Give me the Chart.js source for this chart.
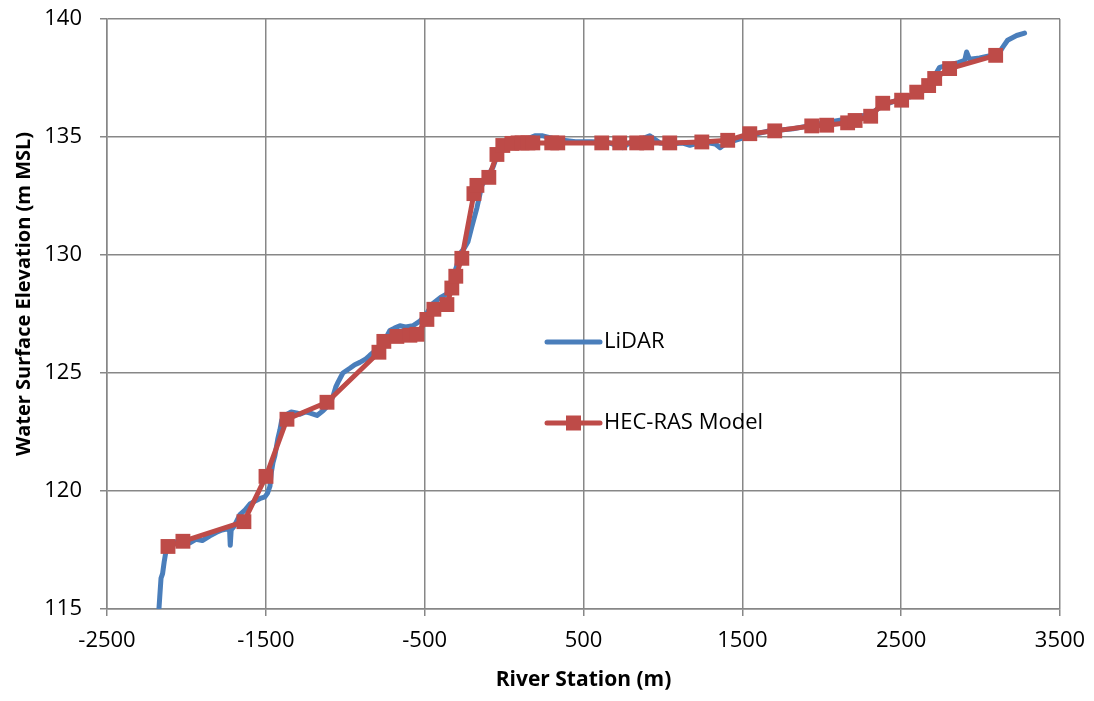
<!DOCTYPE html>
<html>
<head>
<meta charset="utf-8">
<script src="https://cdn.jsdelivr.net/npm/chart.js@4.4.1/dist/chart.umd.min.js"></script>
<style>
  html, body { margin: 0; padding: 0; background: #fff; }
  #wrap { width: 1094px; height: 701px; }
</style>
</head>
<body>
<div id="wrap"><canvas id="wsChart"></canvas></div>
<script>
// LiDAR profile (river station m, elevation m MSL)
const lidar_x = [-2173, -2168, -2160, -2150, -2140, -2130, -2120, -2100, -2060, -2020, -1978, -1940, -1900, -1852, -1810, -1776, -1740, -1728, -1724, -1718, -1700, -1663, -1630, -1600, -1560, -1530, -1506, -1490, -1474, -1465, -1455, -1443, -1425, -1411, -1400, -1380, -1340, -1300, -1285, -1250, -1220, -1178, -1140, -1110, -1097, -1078, -1060, -1046, -1015, -971, -940, -908, -870, -845, -782, -750, -719, -690, -656, -620, -574, -530, -490, -448, -400, -360, -340, -322, -300, -278, -250, -228, -203, -171, -140, -108, -71, -39, 17, 55, 120, 194, 244, 332, 450, 550, 650, 747, 800, 860, 917, 980, 1050, 1120, 1170, 1250, 1330, 1360, 1400, 1450, 1520, 1600, 1660, 1740, 1820, 1900, 1980, 2060, 2150, 2230, 2310, 2390, 2470, 2530, 2600, 2650, 2680, 2720, 2742, 2800, 2860, 2900, 2912, 2930, 2994, 3060, 3120, 3139, 3170, 3227, 3277];
const lidar_y = [115.0, 115.5, 116.3, 116.5, 117.0, 117.4, 117.6, 117.8, 117.85, 117.8, 117.8, 117.95, 117.9, 118.1, 118.25, 118.35, 118.4, 118.3, 117.7, 118.35, 118.5, 119.0, 119.2, 119.45, 119.6, 119.7, 119.75, 119.9, 120.2, 120.8, 121.2, 121.5, 122.2, 122.6, 123.0, 123.2, 123.35, 123.3, 123.25, 123.35, 123.3, 123.2, 123.4, 123.6, 123.7, 124.0, 124.4, 124.6, 125.0, 125.2, 125.35, 125.45, 125.6, 125.75, 126.1, 126.4, 126.8, 126.9, 127.0, 126.95, 127.0, 127.2, 127.5, 127.95, 128.2, 128.35, 128.7, 129.05, 129.5, 130.05, 130.3, 130.55, 131.2, 132.0, 132.95, 133.3, 133.7, 134.3, 134.65, 134.8, 134.85, 135.05, 135.05, 134.9, 134.8, 134.8, 134.78, 134.55, 134.8, 134.9, 135.05, 134.75, 134.7, 134.75, 134.65, 134.8, 134.7, 134.55, 134.75, 134.85, 135.0, 135.15, 135.25, 135.3, 135.35, 135.45, 135.55, 135.65, 135.75, 135.85, 136.0, 136.35, 136.55, 136.65, 136.8, 137.0, 137.3, 137.7, 137.95, 138.05, 138.15, 138.25, 138.6, 138.3, 138.35, 138.45, 138.6, 138.8, 139.1, 139.3, 139.4];

// HEC-RAS model cross sections
const hec_x = [-2116, -2022, -1638, -1499, -1367, -1115, -788, -757, -675, -593, -549, -486, -442, -360, -329, -304, -266, -190, -171, -96, -45, -8, 49, 88, 113, 150, 181, 300, 338, 615, 728, 835, 898, 1043, 1245, 1408, 1547, 1704, 1937, 2031, 2163, 2210, 2308, 2384, 2503, 2598, 2673, 2711, 2805, 3095];
const hec_y = [117.65, 117.87, 118.7, 120.62, 123.04, 123.76, 125.88, 126.34, 126.55, 126.6, 126.64, 127.27, 127.7, 127.9, 128.6, 129.1, 129.86, 132.6, 132.95, 133.29, 134.26, 134.64, 134.73, 134.75, 134.75, 134.75, 134.75, 134.75, 134.75, 134.75, 134.75, 134.75, 134.75, 134.75, 134.79, 134.86, 135.14, 135.26, 135.47, 135.5, 135.6, 135.7, 135.88, 136.43, 136.56, 136.9, 137.18, 137.48, 137.9, 138.46];

const x_ticks = [-2500, -1500, -500, 500, 1500, 2500, 3500];

const blue = '#4A7EBB';
const red = '#BE4B48';
const gridColor = '#878787';
const fontFamily = "'Open Sans', 'Liberation Sans', sans-serif";

function toPoints(xs, ys) {
  return xs.map((x, i) => ({ x: x, y: ys[i] }));
}

// legend inside the plot area + y title placed like the original
const insideLegend = {
  id: 'insideLegend',
  afterDraw(chart) {
    const ctx = chart.ctx;
    const x0 = chart.scales.x.getPixelForValue(-2500) + 438;
    const rows = [
      { label: 'LiDAR', color: blue, marker: false, y: 342 },
      { label: 'HEC-RAS Model', color: red, marker: true, y: 423 }
    ];
    ctx.save();
    rows.forEach(r => {
      ctx.strokeStyle = r.color;
      ctx.lineWidth = 5;
      ctx.lineCap = 'round';
      ctx.beginPath();
      ctx.moveTo(x0 + 2, r.y);
      ctx.lineTo(x0 + 55, r.y);
      ctx.stroke();
      if (r.marker) {
        ctx.fillStyle = r.color;
        ctx.fillRect(x0 + 21, r.y - 7.5, 15, 15);
      }
      ctx.fillStyle = '#000';
      ctx.font = '22px ' + fontFamily;
      ctx.textBaseline = 'middle';
      ctx.textAlign = 'left';
      ctx.fillText(r.label, x0 + 59, r.y);
    });

    // y axis title
    ctx.translate(24, 294);
    ctx.rotate(-Math.PI / 2);
    ctx.font = 'bold 20px ' + fontFamily;
    ctx.textAlign = 'center';
    ctx.textBaseline = 'middle';
    ctx.fillText('Water Surface Elevation (m MSL)', 0, 0);
    ctx.restore();
  }
};

const config = {
  type: 'scatter',
  data: {
    datasets: [{
      label: 'LiDAR',
      data: toPoints(lidar_x, lidar_y),
      showLine: true,
      borderColor: blue,
      backgroundColor: blue,
      borderWidth: 5,
      pointRadius: 0,
      borderCapStyle: 'round',
      borderJoinStyle: 'round',
      order: 2
    }, {
      label: 'HEC-RAS Model',
      data: toPoints(hec_x, hec_y),
      showLine: true,
      borderColor: red,
      backgroundColor: red,
      borderWidth: 5,
      pointStyle: 'rect',
      pointRadius: 10.5,
      pointBorderWidth: 0,
      borderJoinStyle: 'round',
      order: 1
    }]
  },
  options: {
    responsive: true,
    maintainAspectRatio: false,
    animation: false,
    layout: { padding: { left: 0, right: 34, top: 19, bottom: 0 } },
    plugins: {
      legend: { display: false },
      tooltip: { enabled: false }
    },
    scales: {
      x: {
        type: 'linear',
        min: -2500,
        max: 3500,
        afterBuildTicks: (scale) => { scale.ticks = x_ticks.map(v => ({ value: v })); },
        afterFit: (scale) => { scale.height = 92; scale.paddingLeft = 0; scale.paddingRight = 0; },
        grid: { color: gridColor, lineWidth: 1.5, drawTicks: true, tickLength: 7 },
        border: { color: gridColor, width: 1.5 },
        ticks: { color: '#000', font: { size: 22, family: fontFamily }, padding: 12, maxRotation: 0, callback: (v) => String(v) },
        title: {
          display: true,
          text: 'River Station (m)',
          color: '#000',
          font: { size: 21, weight: 'bold', family: fontFamily },
          padding: { top: 4, bottom: 8 }
        }
      },
      y: {
        min: 115,
        max: 140,
        afterFit: (scale) => { scale.width = 107; scale.paddingTop = 0; scale.paddingBottom = 0; },
        grid: { color: gridColor, lineWidth: 1.5, drawTicks: true, tickLength: 7 },
        border: { color: gridColor, width: 1.5 },
        ticks: { stepSize: 5, color: '#000', font: { size: 22, family: fontFamily }, padding: 18, callback: (v) => String(v) }
      }
    }
  },
  plugins: [insideLegend]
};

let myChart = new Chart(document.getElementById('wsChart'), config);
</script>
</body>
</html>
